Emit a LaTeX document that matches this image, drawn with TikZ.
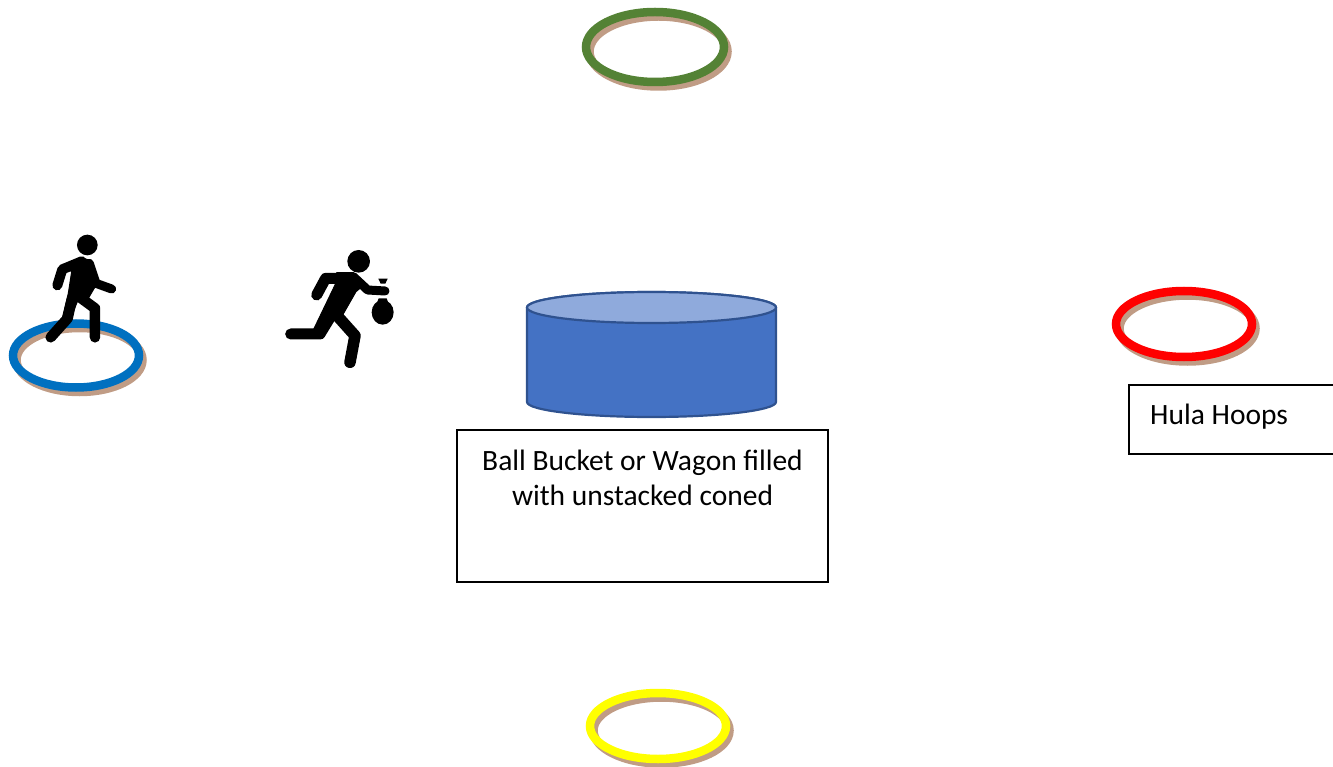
\documentclass[tikz,border=0pt]{standalone}
\usepackage{fontspec}
\setmainfont{Carlito}
\definecolor{shadowc}{HTML}{C09C85}
\definecolor{ringblue}{HTML}{0070C0}
\definecolor{ringgreen}{HTML}{548235}
\definecolor{ringred}{HTML}{FF0000}
\definecolor{ringyellow}{HTML}{FFFF00}
\definecolor{bucket}{HTML}{4472C4}
\definecolor{bucketlight}{HTML}{8FAADC}
\definecolor{bucketline}{HTML}{2F528F}
\tikzset{
  labelbox/.style={draw=black,line width=1.5pt,fill=white,inner sep=0pt},
  labeltext/.style={font=\fontsize{29.5}{35}\selectfont,inner sep=0pt},
  limb/.style={draw=black,line cap=round,line join=round},
  ringline/.style={line width=8.5pt}
}
\newcommand{\hoop}[5]{%
  \draw[shadowc,ringline] (#1+3.5,#2+4.5) ellipse [x radius=#3,y radius=#4];
  \draw[#5,ringline] (#1,#2) ellipse [x radius=#3,y radius=#4];
}
\begin{document}
\begin{tikzpicture}[x=1pt,y=-1pt]
\useasboundingbox (0,0) rectangle (1333,767);
% hoops
\hoop{655}{47}{69}{35}{ringgreen}
\hoop{76}{355.5}{63}{32}{ringblue}
\hoop{1184}{324}{68}{33}{ringred}
\hoop{658}{726}{68}{33}{ringyellow}
% bucket
\draw[fill=bucket,draw=bucketline,line width=2.2pt] (527,307.5) -- (527,402) arc [start angle=180,end angle=0,x radius=124.5,y radius=15] -- (776,307.5) arc [start angle=0,end angle=-180,x radius=124.5,y radius=15.5] -- cycle;
\draw[fill=bucketlight,draw=bucketline,line width=2.2pt] (651.5,307.5) ellipse [x radius=124.5,y radius=15.5];
% boxes
\node[labelbox,minimum width=371pt,minimum height=152pt,anchor=north west] (bucketbox) at (456.4,429.4) {};
\node[labeltext,align=center,anchor=base] (bucketlabel) at (642.5,505) {Ball Bucket or Wagon filled\\with unstacked coned};
\node[labelbox,minimum width=220pt,minimum height=69pt,anchor=north west] (hulabox) at (1128.4,384.4) {};
\node[labeltext,anchor=base west] (hulalabel) at (1150,424) {Hula Hoops};
% walker
\begin{scope}[shift={(0,220)},x=0.3333pt,y=-0.3333pt]
  \fill[black] (262,75) circle [radius=31];
  \fill[black,line join=round,draw=black,line width=1pt] (195,137) -- (245,113) -- (272,122) -- (296,182) -- (265,235) -- (232,245) -- (210,300) -- (188,290) -- (205,220) -- (215,155) -- cycle;
  \path[limb,line width=10pt] (245,124) -- (187,148) -- (172,196);
  \path[limb,line width=9pt] (268,130) -- (288,190) -- (335,207);
  \path[limb,line width=10.5pt] (215,240) -- (203,295) -- (152,352);
  \path[limb,line width=10.5pt] (240,232) -- (285,265) -- (285,352);
\end{scope}
% runner
\begin{scope}[shift={(270,235)},x=0.3333pt,y=-0.3333pt]
  \fill[black] (266,79) circle [radius=34];
  \fill[black,line join=round,draw=black,line width=1pt] (195,150) -- (200,113) -- (250,113) -- (288,145) -- (258,170) -- (218,240) -- (190,258) -- (150,300) -- (130,285) -- cycle;
  \path[limb,line width=11pt] (240,130) -- (167,130) -- (140,180);
  \path[limb,line width=9pt] (250,125) -- (293,165) -- (345,168);
  \path[limb,line width=11pt] (200,215) -- (150,297) -- (62,297);
  \path[limb,line width=11.5pt] (195,235) -- (255,302) -- (240,382);
  \fill[black] (338,232) ellipse [x radius=33,y radius=37];
  \fill[black] (325,131) -- (353,131) -- (346,146) -- (332,146) -- cycle;
  \fill[black] (328,160) rectangle (348,178);
  \fill[black] (326,190) -- (350,190) -- (358,212) -- (318,212) -- cycle;
\end{scope}
\end{tikzpicture}
\end{document}
